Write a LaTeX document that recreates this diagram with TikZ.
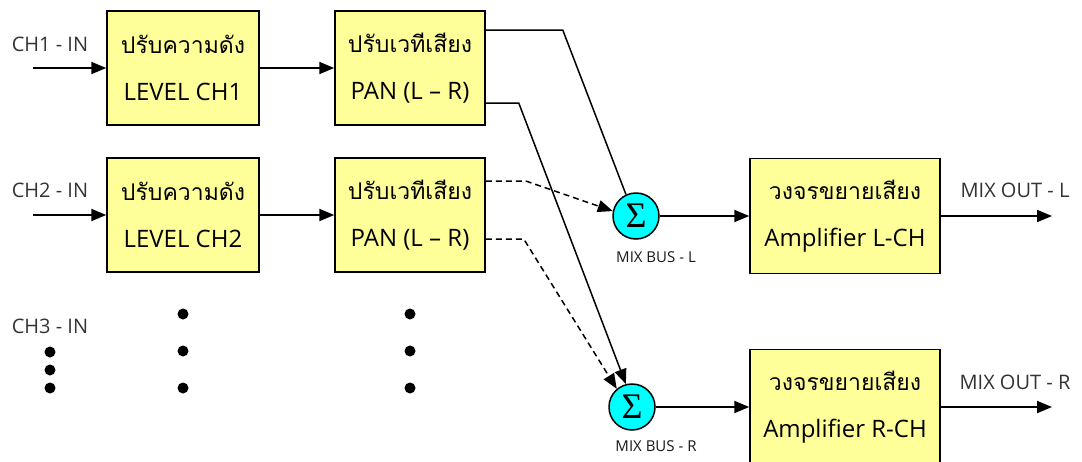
\documentclass[tikz,border=0pt]{standalone}
\usepackage{fontspec}
\setmainfont{Open Sans}
\newfontfamily\thaifont[Script=Thai]{Loma}
\newfontfamily\sigmafont{Liberation Serif}
\usetikzlibrary{arrows.meta, calc}

\definecolor{boxfill}{RGB}{255,255,153}
\definecolor{sumfill}{RGB}{0,255,255}

\tikzset{
  block/.style={draw, line width=1.5pt, fill=boxfill, align=center, inner sep=0pt,
    font=\fontsize{24}{47}\selectfont},
  sumnode/.style={circle, draw, line width=1.5pt, fill=sumfill, minimum size=46pt,
    inner sep=0pt, font=\sigmafont\fontsize{36}{36}\selectfont},
  sig/.style={->, line width=2pt},
  feed/.style={line width=1.5pt},
  tag/.style={font=\fontsize{20}{20}\selectfont, text=black!80},
  bus/.style={font=\fontsize{15}{15}\selectfont, text=black!90},
  dot/.style={circle, fill, inner sep=0pt, minimum size=11pt}
}

\begin{document}
\begin{tikzpicture}[x=1pt, y=-1pt, >={Triangle[length=15pt, width=12pt]}]
  \useasboundingbox (0,0) rectangle (1082,461);
  % channel 1
  \coordinate (inA) at (33,68);
  \node[tag] (inAtxt) at (50,44) {CH1 - IN};
  \node[block, minimum width=152pt, minimum height=114pt] (lvlA) at (183,68)
    {{\thaifont\fontsize{23}{47}\selectfont ปรับความดัง}\\LEVEL CH1};
  \node[block, minimum width=150pt, minimum height=114pt] (panA) at (410,68)
    {{\thaifont\fontsize{23}{47}\selectfont ปรับเวทีเสียง}\\PAN (L -- R)};
  % channel 2
  \coordinate (inB) at (33,215);
  \node[tag] (inBtxt) at (50,190) {CH2 - IN};
  \node[block, minimum width=152pt, minimum height=114pt] (lvlB) at (183,215)
    {{\thaifont\fontsize{23}{47}\selectfont ปรับความดัง}\\LEVEL CH2};
  \node[block, minimum width=150pt, minimum height=114pt] (panB) at (410,215)
    {{\thaifont\fontsize{23}{47}\selectfont ปรับเวทีเสียง}\\PAN (L -- R)};
  % channel 3 and more
  \node[tag] (inCtxt) at (50,326) {CH3 - IN};
  \foreach \y in {352,370,388} \node[dot] (dI\y) at (50,\y) {};
  \foreach \y in {314,351,388} {
    \node[dot] (dL\y) at (183,\y) {};
    \node[dot] (dP\y) at (410,\y) {};
  }
  % mix buses
  \node[sumnode] (sumL) at (636,216) {Σ};
  \node[bus] (busL) at (656,257) {MIX BUS - L};
  \node[sumnode] (sumR) at (632,407) {Σ};
  \node[bus] (busR) at (656,446) {MIX BUS - R};
  % amplifiers
  \node[block, minimum width=190pt, minimum height=115pt] (ampL) at (845,216)
    {{\thaifont\fontsize{23}{47}\selectfont วงจรขยายเสียง}\\Amplifier L-CH};
  \node[block, minimum width=190pt, minimum height=115pt] (ampR) at (845,407)
    {{\thaifont\fontsize{23}{47}\selectfont วงจรขยายเสียง}\\Amplifier R-CH};
  \coordinate (outL) at (1052,216);
  \coordinate (outR) at (1052,407);
  \node[tag] (outLtxt) at (1015,190) {MIX OUT - L};
  \node[tag] (outRtxt) at (1015,382) {MIX OUT - R};

  \draw[sig] (inA) -- (lvlA);
  \draw[sig] (lvlA) -- (panA);
  \draw[sig] (inB) -- (lvlB);
  \draw[sig] (lvlB) -- (panB);
  % pan outputs
  \draw[feed] ($(panA.east)+(0,-38)$) -- ++(77,0) -- (sumL.115);
  \draw[feed, ->] ($(panA.east)+(0,35)$) -- ++(33,0) -- (sumR.105);
  \draw[feed, ->, dash pattern=on 6pt off 4pt] ($(panB.east)+(0,-34)$) -- ++(40,0) -- (sumL.168);
  \draw[feed, ->, dash pattern=on 6pt off 4pt] ($(panB.east)+(0,24)$) -- ++(38,0) -- (sumR.130);
  \draw[sig] (sumL) -- (ampL);
  \draw[sig] (sumR) -- (ampR);
  \draw[sig] (ampL) -- (outL);
  \draw[sig] (ampR) -- (outR);
\end{tikzpicture}
\end{document}
